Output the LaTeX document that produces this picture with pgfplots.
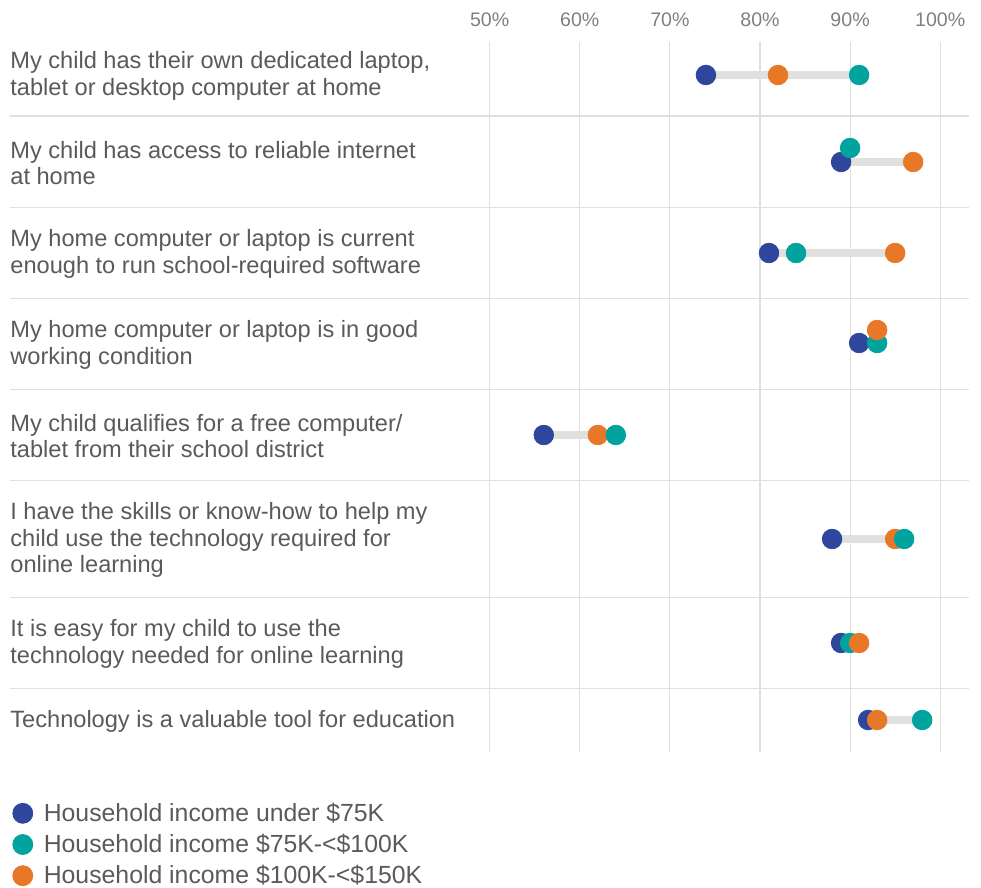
\documentclass[border=0pt]{standalone}
\usepackage{fontspec}
\setmainfont{Liberation Sans}
\usepackage{pgfplots}
\pgfplotsset{compat=1.18}
\definecolor{cblue}{RGB}{46,71,157}
\definecolor{cteal}{RGB}{0,163,158}
\definecolor{corange}{RGB}{232,119,40}
\definecolor{ctext}{RGB}{90,90,90}
\definecolor{ctick}{RGB}{128,128,128}
\definecolor{cgrid}{RGB}{223,223,223}
\definecolor{cbar}{RGB}{224,224,222}
\begin{document}
\begin{tikzpicture}
\useasboundingbox (0,0) rectangle (490.5pt,-444pt);
\begin{axis}[
  at={(5pt,-20.85pt)}, anchor=north west,
  scale only axis, width=479.25pt, height=355.15pt,
  xmin=-3.24, xmax=103.14, ymin=41.7, ymax=752, y dir=reverse,
  xtick={50,60,...,100},
  xticklabel={\pgfmathprintnumber{\tick}\%},
  /pgf/number format/assume math mode=true,
  xticklabel pos=upper,
  xticklabel style={font=\fontsize{9.8}{10}\selectfont, text=ctick, anchor=base, yshift=7.5pt},
  ytick={116,207.3,298.3,389.3,480.3,597.3,688.3},
  yticklabels={},
  xmajorgrids, ymajorgrids,
  grid style={draw=cgrid, line width=0.55pt},
  axis line style={draw=none},
  major tick length=0pt,
  clip=false,
  legend image code/.code={\fill[#1] (0pt,1pt) circle (5pt);},
  legend style={at={(0,0)}, anchor=north west, xshift=1pt, yshift=-25.25pt,
    draw=none, fill=none, inner sep=0pt, row sep=3.3pt,
    font=\fontsize{12.4}{14}\selectfont, text=ctext,
    nodes={inner sep=0pt, text height=9.2pt, text depth=3pt},
    column sep=5.3pt},
  legend cell align=left,
]
\addlegendimage{cblue}
\addlegendentry{Household income under \$75K}
\addlegendimage{cteal}
\addlegendentry{Household income \$75K-<\$100K}
\addlegendimage{corange}
\addlegendentry{Household income \$100K-<\$150K}

\addplot[cbar, line width=4pt, forget plot] coordinates {(74,75) (91,75)};
\addplot[cbar, line width=4pt, forget plot] coordinates {(89,162) (97,162)};
\addplot[cbar, line width=4pt, forget plot] coordinates {(81,253) (95,253)};
\addplot[cbar, line width=4pt, forget plot] coordinates {(91,343) (93,343)};
\addplot[cbar, line width=4pt, forget plot] coordinates {(56,435) (64,435)};
\addplot[cbar, line width=4pt, forget plot] coordinates {(88,539) (96,539)};
\addplot[cbar, line width=4pt, forget plot] coordinates {(89,643) (91,643)};
\addplot[cbar, line width=4pt, forget plot] coordinates {(92,720) (98,720)};

\addplot[scatter, only marks, scatter src=explicit symbolic, forget plot,
  mark size=4.9pt,
  scatter/classes={
    b={mark=*, cblue},
    t={mark=*, cteal},
    o={mark=*, corange}}]
table[meta=label] {
x y label
74 75 b
82 75 o
91 75 t
89 162 b
90 148 t
97 162 o
81 253 b
84 253 t
95 253 o
91 343 b
93 343 t
93 330 o
56 435 b
62 435 o
64 435 t
88 539 b
95 539 o
96 539 t
89 643 b
90 643 t
91 643 o
92 720 b
93 720 o
98 720 t
};

\begin{scope}[every node/.style={anchor=west, align=left, inner sep=0pt,
   font=\fontsize{11.8}{13.3}\selectfont, text=ctext}]
\node at (axis cs:-3.24,76) {My child has their own dedicated laptop,\\tablet or desktop computer at home};
\node at (axis cs:-3.24,163) {My child has access to reliable internet\\at home};
\node at (axis cs:-3.24,254) {My home computer or laptop is current\\enough to run school-required software};
\node at (axis cs:-3.24,345) {My home computer or laptop is in good\\working condition};
\node at (axis cs:-3.24,436) {My child qualifies for a free computer/\\tablet from their school district};
\node at (axis cs:-3.24,540) {I have the skills or know-how to help my\\child use the technology required for\\online learning};
\node at (axis cs:-3.24,644) {It is easy for my child to use the\\technology needed for online learning};
\node at (axis cs:-3.24,721) {Technology is a valuable tool for education};
\end{scope}
\end{axis}
\end{tikzpicture}
\end{document}
